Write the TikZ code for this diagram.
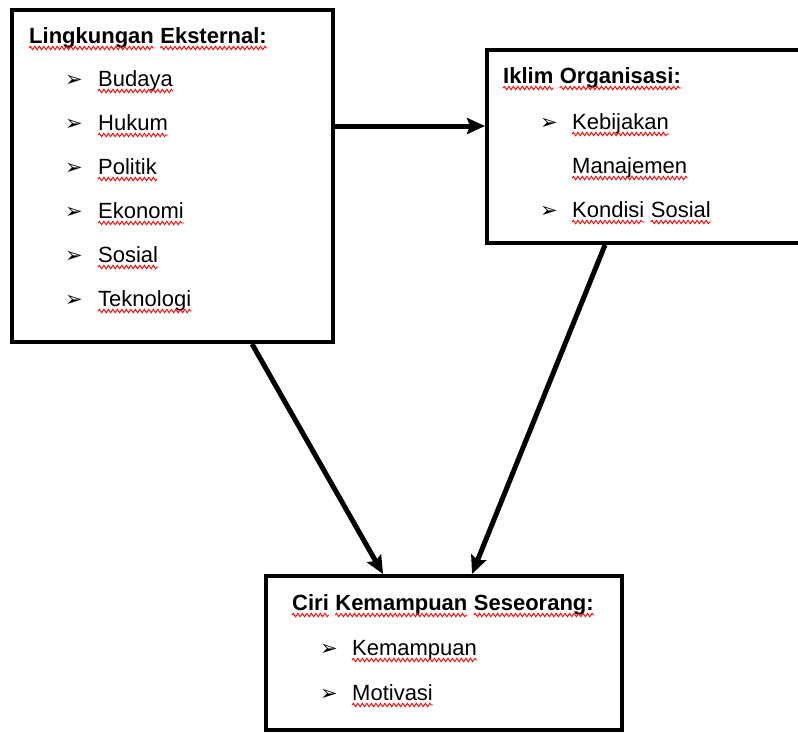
\documentclass[tikz,border=0pt]{standalone}
\usepackage{fontspec}
\setmainfont{Liberation Sans}
\newfontfamily\dejavu{DejaVu Sans}
\usetikzlibrary{arrows.meta,decorations.pathmorphing}
\begin{document}
\begin{tikzpicture}[x=1pt,y=-1pt,
  box/.style={draw,line width=4pt,rectangle,inner sep=0pt,outer sep=2pt},
  txt/.style={anchor=base west,inner sep=0pt,font=\fontsize{22}{26}\selectfont},
  hd/.style={anchor=base west,inner sep=0pt,font=\bfseries\fontsize{22}{26}\selectfont},
  bul/.style={anchor=base west,inner sep=0pt,font=\dejavu\fontsize{21}{24}\selectfont},
  sqw/.style={draw=red,line width=0.9pt,decorate,decoration={snake,segment length=4.5pt,amplitude=1.7pt}},
  arr/.style={line width=5pt,-{Stealth[length=18pt,width=16pt,inset=3pt]}}]
\useasboundingbox (0,0) rectangle (798,732);
\fill[white] (0,0) rectangle (798,732);
% boxes
\node[box,minimum width=321pt,minimum height=332pt] (b1) at (172.5,176) {};
\node[box,minimum width=316pt,minimum height=193pt] (b2) at (645,146.5) {};
\node[box,minimum width=356pt,minimum height=154pt] (b3) at (444,653) {};
% box 1 text
\node[hd] (h1a) at (29,43) {Lingkungan};
\node[hd] (h1b) at ([xshift=6.1pt]h1a.base east) {Eksternal:};
\node[bul] (p1) at (65,86) {➢};  \node[txt] (t1) at (98,86) {Budaya};
\node[bul] (p2) at (65,130) {➢}; \node[txt] (t2) at (98,130) {Hukum};
\node[bul] (p3) at (65,174) {➢}; \node[txt] (t3) at (98,174) {Politik};
\node[bul] (p4) at (65,218) {➢}; \node[txt] (t4) at (98,218) {Ekonomi};
\node[bul] (p5) at (65,262) {➢}; \node[txt] (t5) at (98,262) {Sosial};
\node[bul] (p6) at (65,306) {➢}; \node[txt] (t6) at (98,306) {Teknologi};
% box 2 text
\node[hd] (h2a) at (503,83) {Iklim};
\node[hd] (h2b) at ([xshift=6.1pt]h2a.base east) {Organisasi:};
\node[bul] (q1) at (540,129) {➢}; \node[txt] (u1) at (572,129) {Kebijakan};
\node[txt] (u2) at (572,173) {Manajemen};
\node[bul] (q3) at (540,217) {➢}; \node[txt] (u3a) at (572,217) {Kondisi};
\node[txt] (u3b) at ([xshift=6.1pt]u3a.base east) {Sosial};
% box 3 text
\node[hd] (h3a) at (292,610) {Ciri};
\node[hd] (h3b) at ([xshift=6.1pt]h3a.base east) {Kemampuan};
\node[hd] (h3c) at ([xshift=6.1pt]h3b.base east) {Seseorang:};
\node[bul] (r1) at (320,655) {➢}; \node[txt] (v1) at (352,655) {Kemampuan};
\node[bul] (r2) at (320,700) {➢}; \node[txt] (v2) at (352,700) {Motivasi};
% spell-check squiggles
\foreach \n in {h1a,h1b,t1,t2,t3,t4,t5,t6,h2a,h2b,u1,u2,u3a,u3b,h3a,h3b,h3c,v1,v2}
  \draw[sqw] ([yshift=-5pt]\n.base west) -- ([yshift=-5pt]\n.base east);
% arrows
\draw[arr] ([yshift=50pt]b1.east) -- ([yshift=50pt]b1.east -| b2.west);
\draw[arr] ([xshift=79.5pt]b1.south) -- ([xshift=-61pt]b3.north);
\draw[arr] ([xshift=-40pt]b2.south) -- ([xshift=28pt]b3.north);
\end{tikzpicture}
\end{document}
